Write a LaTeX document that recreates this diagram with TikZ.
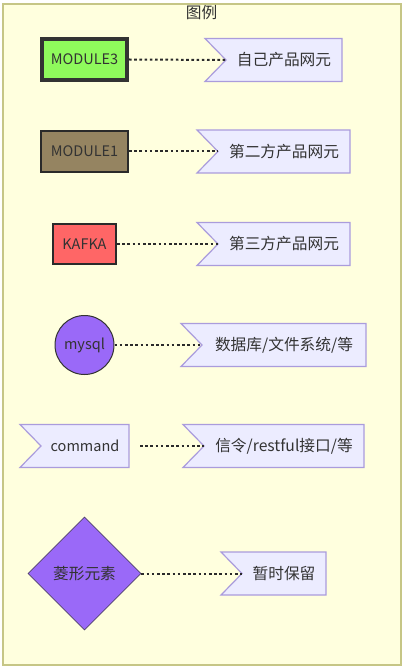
\documentclass[tikz,border=0pt]{standalone}
\usepackage{fontspec}
\setmainfont{Noto Sans CJK SC}
\usetikzlibrary{shapes.geometric}
\definecolor{bgc}{HTML}{FFFFDE}
\definecolor{framec}{HTML}{C6C686}
\definecolor{flagfill}{HTML}{ECECFF}
\definecolor{flagline}{HTML}{AA9CDC}
\definecolor{txt}{HTML}{333333}
\definecolor{gfill}{HTML}{8FFA5C}
\definecolor{bfill}{HTML}{958461}
\definecolor{rfill}{HTML}{FF6666}
\definecolor{pfill}{HTML}{9A69F8}
\definecolor{dline}{HTML}{2A2A2A}
\tikzset{
  lbl/.style={font=\fontsize{14.5}{16}\selectfont, text=txt, inner sep=0pt},
  cjklbl/.style={font=\fontsize{15.7}{17}\selectfont, text=txt, inner sep=0pt},
  flagbody/.style={fill=flagfill, draw=flagline, line width=1.2pt, line join=miter},
  legendlink/.style={draw=dline, line width=2pt, dash pattern=on 2.6pt off 2.6pt},
  thickbox/.style={rectangle, draw=txt, line width=4pt, inner sep=0pt},
  thinbox/.style={rectangle, draw=dline, line width=2pt, inner sep=0pt},
}
% \legendflag{name}{left}{right}{centre y}{style}{text}
\newcommand\legendflag[6]{%
  \coordinate (#1-tip) at ({#2+21},#4);
  \path[flagbody] (#2,{#4-21.5}) -- (#3,{#4-21.5}) -- (#3,{#4+21.5}) -- (#2,{#4+21.5}) -- (#1-tip) -- cycle;
  \node[#5] (#1) at ({(#2+21+#3)/2},#4) {#6};
}
\begin{document}
\begin{tikzpicture}[x=1pt,y=-1pt]
\useasboundingbox (0,0) rectangle (403,668);
\path[fill=bgc, draw=framec, line width=1.5pt] (3,4) rectangle (401,665);
\node[cjklbl] (title) at (201.5,13) {图例};

% row 1
\node[thickbox, fill=gfill, minimum width=85pt, minimum height=41pt] (m3) at (84.5,59.5) {};
\node[lbl] (m3t) at (m3) {MODULE3};
\legendflag{f1}{205}{342}{60}{cjklbl}{自己产品网元}
\draw[legendlink] (m3.east) -- (f1-tip);

% row 2
\node[thinbox, fill=bfill, minimum width=87pt, minimum height=41pt] (m1) at (84.5,151.5) {};
\node[lbl] (m1t) at (m1) {MODULE1};
\legendflag{f2}{197}{350}{151.5}{cjklbl}{第二方产品网元}
\draw[legendlink] (m1.east) -- (f2-tip);

% row 3
\node[thinbox, fill=rfill, minimum width=63pt, minimum height=40pt] (kf) at (84.5,244) {};
\node[lbl] (kft) at (kf) {KAFKA};
\legendflag{f3}{197}{350}{244}{cjklbl}{第三方产品网元}
\draw[legendlink] (kf.east) -- (f3-tip);

% row 4
\node[circle, fill=pfill, draw=txt, line width=1pt, minimum size=59pt, inner sep=0pt] (db) at (84.5,345) {};
\node[lbl] (dbt) at (db) {mysql};
\legendflag{f4}{181}{366}{345}{cjklbl}{数据库/文件系统/等}
\draw[legendlink] (db.east) -- (f4-tip);

% row 5
\legendflag{cmd}{20}{129}{446}{lbl}{command}
\coordinate (cmdr) at (140,446);
\legendflag{f5}{183}{364}{446}{cjklbl}{信令/restful接口/等}
\draw[legendlink] (cmdr) -- (f5-tip);

% row 6
\node[diamond, fill=pfill, draw=txt!70!pfill, line width=0.8pt, minimum width=113pt, minimum height=113pt, inner sep=0pt] (dm) at (84.5,573.5) {};
\node[cjklbl] (dmt) at (dm) {菱形元素};
\legendflag{f6}{221}{326}{573.5}{cjklbl}{暂时保留}
\draw[legendlink] (dm.east) -- (f6-tip);
\end{tikzpicture}
\end{document}
